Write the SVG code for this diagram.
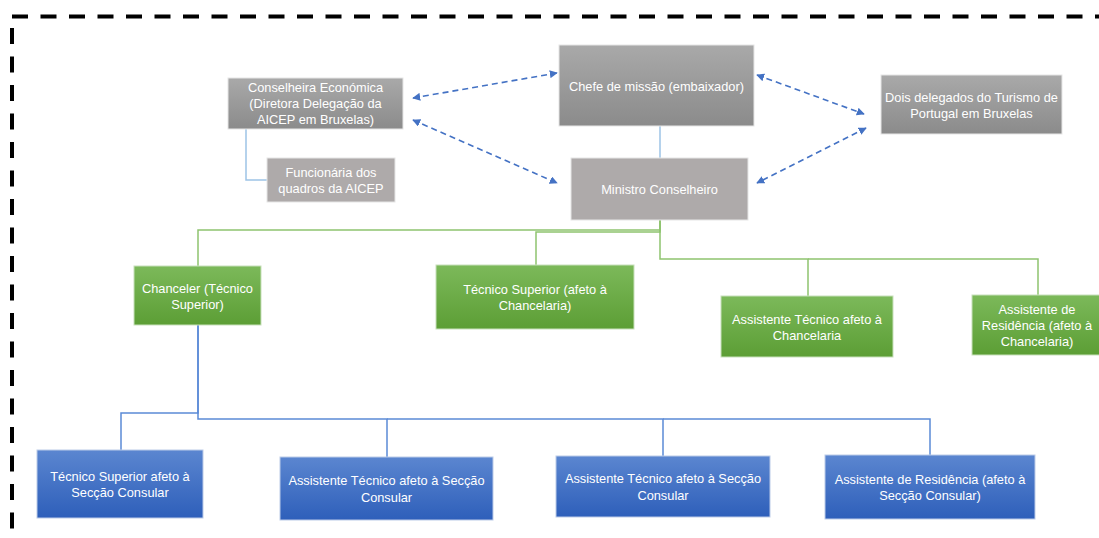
<svg xmlns="http://www.w3.org/2000/svg" width="1099" height="538" viewBox="0 0 1099 538">
<defs>
<linearGradient id="gGray" x1="0" y1="0" x2="0" y2="1"><stop offset="0" stop-color="#a9a9a9"/><stop offset="1" stop-color="#8b8b8b"/></linearGradient>
<linearGradient id="gGreen" x1="0" y1="0" x2="0" y2="1"><stop offset="0" stop-color="#7cb95a"/><stop offset="1" stop-color="#5c9e35"/></linearGradient>
<linearGradient id="gBlue" x1="0" y1="0" x2="0" y2="1"><stop offset="0" stop-color="#5b86d0"/><stop offset="1" stop-color="#2e5fba"/></linearGradient>
<marker id="ah" viewBox="0 0 10 10" refX="9" refY="5" markerWidth="8" markerHeight="8" orient="auto-start-reverse" markerUnits="userSpaceOnUse"><path d="M0,0 L10,5 L0,10 z" fill="#4472c4"/></marker>
<style>
.t{font-family:"Liberation Sans",Arial,sans-serif;font-size:12.8px;fill:#ffffff;text-anchor:middle;dominant-baseline:central}
.gray{fill:url(#gGray);stroke:#e6e6e6;stroke-width:1}
.flat{fill:#aeaaaa;stroke:#e6e6e6;stroke-width:1}
.green{fill:url(#gGreen);stroke:#c8e0bb;stroke-width:1}
.blue{fill:url(#gBlue);stroke:#bccbe8;stroke-width:1}
.lg{fill:none;stroke:#8fc46f;stroke-width:1.5}
.lb{fill:none;stroke:#5b8ad6;stroke-width:1.5}
.llb{fill:none;stroke:#9dc3e6;stroke-width:1.5}
.da{fill:none;stroke:#4472c4;stroke-width:1.6;stroke-dasharray:6 4;marker-start:url(#ah);marker-end:url(#ah)}
.border{fill:none;stroke:#000;stroke-width:4;stroke-dasharray:16 12.5}
</style>
</defs>
<rect width="1099" height="538" fill="#ffffff"/>
<g id="frame">
<line class="border" x1="12" y1="16.5" x2="1099" y2="16.5"/>
<line class="border" x1="12" y1="28" x2="12" y2="538"/>
</g>
<g id="connectors">
<path class="llb" d="M246,129 V180 H267"/>
<path class="llb" d="M660,126 V158"/>
<path class="lg" d="M660,220 V230 H198 V266"/>
<path class="lg" d="M660,220 V232 H536 V265"/>
<path class="lg" d="M660,220 V259 H808 V296"/>
<path class="lg" d="M808,259 H1038 V295"/>
<path class="lb" d="M198,325 V413 H121 V450"/>
<path class="lb" d="M198,325 V419 H387 V457"/>
<path class="lb" d="M387,419 H663 V456"/>
<path class="lb" d="M663,419 H930 V455"/>
<line class="da" x1="413" y1="98" x2="557" y2="73"/>
<line class="da" x1="413" y1="120" x2="557" y2="183"/>
<line class="da" x1="757" y1="75" x2="864" y2="114"/>
<line class="da" x1="866" y1="128" x2="757" y2="183"/>
</g>
<g id="n-conselheira">
<rect class="gray" x="228" y="78" width="175" height="51"/>
<text class="t" x="315.5" y="87">Conselheira Económica</text>
<text class="t" x="315.5" y="103">(Diretora Delegação da</text>
<text class="t" x="315.5" y="119">AICEP em Bruxelas)</text>
</g>
<g id="n-funcionaria">
<rect class="flat" x="267" y="158" width="128" height="44"/>
<text class="t" x="331" y="172">Funcionária dos</text>
<text class="t" x="331" y="188">quadros da AICEP</text>
</g>
<g id="n-chefe">
<rect class="gray" x="559" y="45" width="195" height="81"/>
<text class="t" x="656.5" y="86">Chefe de missão (embaixador)</text>
</g>
<g id="n-ministro">
<rect class="flat" x="571" y="158" width="177" height="62"/>
<text class="t" x="659.5" y="189">Ministro Conselheiro</text>
</g>
<g id="n-dois">
<rect class="gray" x="881" y="75" width="181" height="59"/>
<text class="t" x="971.5" y="97">Dois delegados do Turismo de</text>
<text class="t" x="971.5" y="113">Portugal em Bruxelas</text>
</g>
<g id="n-chanceler">
<rect class="green" x="134" y="266" width="127" height="59"/>
<text class="t" x="197.5" y="288">Chanceler (Técnico</text>
<text class="t" x="197.5" y="304">Superior)</text>
</g>
<g id="n-tecsup-chanc">
<rect class="green" x="436" y="265" width="198" height="64"/>
<text class="t" x="535" y="289">Técnico Superior (afeto à</text>
<text class="t" x="535" y="305">Chancelaria)</text>
</g>
<g id="n-asstec-chanc">
<rect class="green" x="721" y="296" width="172" height="61"/>
<text class="t" x="807" y="319">Assistente Técnico afeto à</text>
<text class="t" x="807" y="335">Chancelaria</text>
</g>
<g id="n-assres-chanc">
<rect class="green" x="972" y="295" width="132" height="60"/>
<text class="t" x="1037" y="309">Assistente de</text>
<text class="t" x="1037" y="325">Residência (afeto à</text>
<text class="t" x="1037" y="341">Chancelaria)</text>
</g>
<g id="n-tecsup-cons">
<rect class="blue" x="37" y="450" width="166" height="68"/>
<text class="t" x="120" y="476">Técnico Superior afeto à</text>
<text class="t" x="120" y="492">Secção Consular</text>
</g>
<g id="n-asstec-cons1">
<rect class="blue" x="280" y="457" width="213" height="63"/>
<text class="t" x="386.5" y="480">Assistente Técnico afeto à Secção</text>
<text class="t" x="386.5" y="497">Consular</text>
</g>
<g id="n-asstec-cons2">
<rect class="blue" x="556" y="456" width="214" height="61"/>
<text class="t" x="663" y="478">Assistente Técnico afeto à Secção</text>
<text class="t" x="663" y="495">Consular</text>
</g>
<g id="n-assres-cons">
<rect class="blue" x="825" y="455" width="210" height="64"/>
<text class="t" x="930" y="479">Assistente de Residência (afeto à</text>
<text class="t" x="930" y="495">Secção Consular)</text>
</g>
</svg>
